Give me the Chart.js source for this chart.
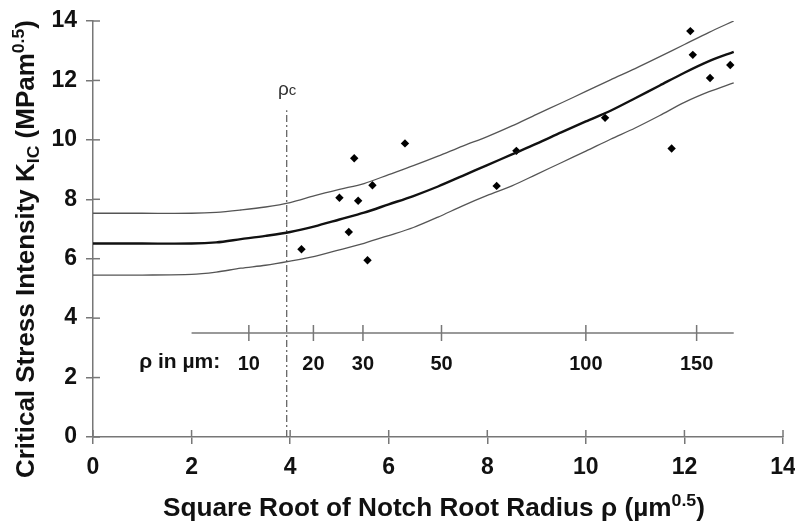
<!DOCTYPE html>
<html>
<head>
<meta charset="utf-8">
<script src="https://cdn.jsdelivr.net/npm/chart.js@4/dist/chart.umd.min.js"></script>
<style>
html,body{margin:0;padding:0;background:#fff;}
#c{display:block;}
</style>
</head>
<body>
<canvas id="c" width="795" height="522"></canvas>
<script>
// ---- data ----
const curveX   = [0, 1, 2, 2.5, 3, 3.5, 4, 4.5, 5, 5.5, 6, 6.5, 7, 7.5, 8, 8.5, 9, 9.5, 10, 10.5, 11, 11.5, 12, 12.5, 13];
const meanK    = [6.51, 6.51, 6.51, 6.55, 6.66, 6.77, 6.90, 7.09, 7.32, 7.55, 7.83, 8.11, 8.43, 8.79, 9.15, 9.51, 9.87, 10.25, 10.62, 10.98, 11.40, 11.83, 12.26, 12.65, 12.96];
const upperK   = [7.53, 7.53, 7.53, 7.56, 7.64, 7.74, 7.89, 8.12, 8.33, 8.53, 8.83, 9.13, 9.45, 9.79, 10.11, 10.47, 10.86, 11.24, 11.63, 12.02, 12.40, 12.80, 13.21, 13.62, 14.00];
const lowerK   = [5.45, 5.45, 5.47, 5.55, 5.68, 5.78, 5.92, 6.08, 6.30, 6.52, 6.78, 7.05, 7.40, 7.78, 8.13, 8.45, 8.84, 9.23, 9.62, 10.02, 10.40, 10.82, 11.26, 11.62, 11.92];
const measX    = [4.23, 5.00, 5.19, 5.30, 5.38, 5.57, 5.67, 6.33, 8.19, 8.59, 10.39, 11.74, 12.12, 12.17, 12.52, 12.93];
const measK    = [6.32, 8.05, 6.90, 9.38, 7.95, 5.95, 8.47, 9.88, 8.45, 9.63, 10.74, 9.71, 13.66, 12.86, 12.08, 12.52];
const axisTicks = [0, 2, 4, 6, 8, 10, 12, 14];
const rhoTickLabels = [10, 20, 30, 50, 100, 150];   // notch radius in µm
const rhoAxisRange = [2, 13];                        // extent of the inner ρ axis (√µm)
const rhoAxisLevel = 3.5;                            // K level of the inner axis
const rhoLabelLevel = 2.45;
const rhoC = 3.93;                                   // √ρc
const rhoCTop = 11.0;

const pts = (xs, ys) => xs.map((x, i) => ({x, y: ys[i]}));
const FONT = '"Liberation Sans", Arial, Helvetica, sans-serif';

const extras = {
  id: 'extras',
  afterDatasetsDraw(chart) {
    const ctx = chart.ctx, xs = chart.scales.x, ys = chart.scales.y;
    const x0 = xs.getPixelForValue(0), y0 = ys.getPixelForValue(0);
    ctx.save();
    ctx.strokeStyle = '#777';
    ctx.lineWidth = 1.5;
    // inner half of the crossing tick marks
    axisTicks.forEach(v => {
      const py = ys.getPixelForValue(v);
      ctx.beginPath(); ctx.moveTo(x0, py); ctx.lineTo(x0 + 7, py); ctx.stroke();
      const px = xs.getPixelForValue(v);
      ctx.beginPath(); ctx.moveTo(px, y0); ctx.lineTo(px, y0 - 7); ctx.stroke();
    });
    // inner ρ axis ticks + labels
    const ay = ys.getPixelForValue(rhoAxisLevel);
    const ly = ys.getPixelForValue(rhoLabelLevel);
    ctx.fillStyle = '#111';
    ctx.font = 'bold 20px ' + FONT;
    ctx.textAlign = 'center';
    ctx.textBaseline = 'middle';
    rhoTickLabels.forEach(r => {
      const px = xs.getPixelForValue(Math.sqrt(r));
      ctx.beginPath(); ctx.moveTo(px, ay - 8); ctx.lineTo(px, ay + 8); ctx.stroke();
      ctx.fillText(String(r), px, ly);
    });
    ctx.font = 'bold 21px ' + FONT;
    ctx.fillText('ρ in µm:', xs.getPixelForValue(1.76), ly - 2);
    // ρc label
    ctx.font = '19px ' + FONT;
    ctx.fillStyle = '#333';
    const cx = xs.getPixelForValue(rhoC), cy = ys.getPixelForValue(11.7);
    ctx.textAlign = 'right';
    ctx.fillText('ρ', cx + 2, cy);
    ctx.font = '15px ' + FONT;
    ctx.textAlign = 'left';
    ctx.fillText('c', cx + 2, cy + 2);

    // axis titles with sub/superscripts, stretched to the reference length
    ctx.fillStyle = '#111';
    const drawRich = (parts, x, y, target) => {
      let total = 0;
      parts.forEach(p => { ctx.font = 'bold ' + p[1] + 'px ' + FONT; total += ctx.measureText(p[0]).width; });
      const k = target / total;
      ctx.save();
      ctx.translate(x, y);
      ctx.scale(k, 1);
      let cur = -total / 2;
      ctx.textAlign = 'left';
      ctx.textBaseline = 'alphabetic';
      parts.forEach(p => {
        ctx.font = 'bold ' + p[1] + 'px ' + FONT;
        ctx.fillText(p[0], cur, p[2]);
        cur += ctx.measureText(p[0]).width;
      });
      ctx.restore();
    };
    drawRich([['Square Root of Notch Root Radius ρ (µm', 25, 0], ['0.5', 17, -10], [')', 25, 0]], 434, 516, 542);
    ctx.save();
    ctx.translate(34, 249);
    ctx.rotate(-Math.PI / 2);
    drawRich([['Critical Stress Intensity K', 25, 0], ['IC', 17, 5], [' (MPam', 25, 0], ['0.5', 17, -10], [')', 25, 0]], 0, 0, 458);
    ctx.restore();
    ctx.restore();
  }
};

new Chart(document.getElementById('c'), {
  type: 'scatter',
  data: {
    datasets: [
      { data: pts(curveX, upperK), showLine: true, pointRadius: 0, borderColor: '#555', borderWidth: 1.3, tension: 0.3 },
      { data: pts(curveX, meanK),  showLine: true, pointRadius: 0, borderColor: '#111', borderWidth: 2.4, tension: 0.3 },
      { data: pts(curveX, lowerK), showLine: true, pointRadius: 0, borderColor: '#555', borderWidth: 1.3, tension: 0.3 },
      { data: [{x: rhoC, y: 0}, {x: rhoC, y: rhoCTop}], showLine: true, pointRadius: 0, borderColor: '#666', borderWidth: 1.3, borderDash: [7, 3, 2, 3] },
      { data: [{x: rhoAxisRange[0], y: rhoAxisLevel}, {x: rhoAxisRange[1], y: rhoAxisLevel}], showLine: true, pointRadius: 0, borderColor: '#777', borderWidth: 1.5 },
      { data: pts(measX, measK), showLine: false, pointStyle: 'rectRot', pointRadius: 4.2, backgroundColor: '#000', borderColor: '#000', borderWidth: 0 }
    ]
  },
  options: {
    responsive: false,
    animation: false,
    layout: { padding: { left: 0, top: 21, right: 12, bottom: 0 } },
    plugins: { legend: { display: false }, tooltip: { enabled: false } },
    scales: {
      x: {
        type: 'linear', min: 0, max: 14,
        afterBuildTicks: s => { s.ticks = axisTicks.map(v => ({value: v})); },
        afterFit: s => { s.height = 85; s.paddingLeft = 0; s.paddingRight = 0; },
        grid: { drawOnChartArea: false, drawTicks: true, tickLength: 7, color: '#777', lineWidth: 1.5 },
        border: { color: '#777', width: 1.5 },
        ticks: { color: '#111', font: { family: FONT, size: 23, weight: 'bold' }, padding: 10, maxRotation: 0 }
      },
      y: {
        type: 'linear', min: 0, max: 14,
        afterBuildTicks: s => { s.ticks = axisTicks.map(v => ({value: v})); },
        afterFit: s => { s.width = 93; s.paddingTop = 0; s.paddingBottom = 0; },
        grid: { drawOnChartArea: false, drawTicks: true, tickLength: 7, color: '#777', lineWidth: 1.5 },
        border: { color: '#777', width: 1.5 },
        ticks: { color: '#111', font: { family: FONT, size: 23, weight: 'bold' }, padding: 9 }
      }
    }
  },
  plugins: [extras]
});
</script>
</body>
</html>
